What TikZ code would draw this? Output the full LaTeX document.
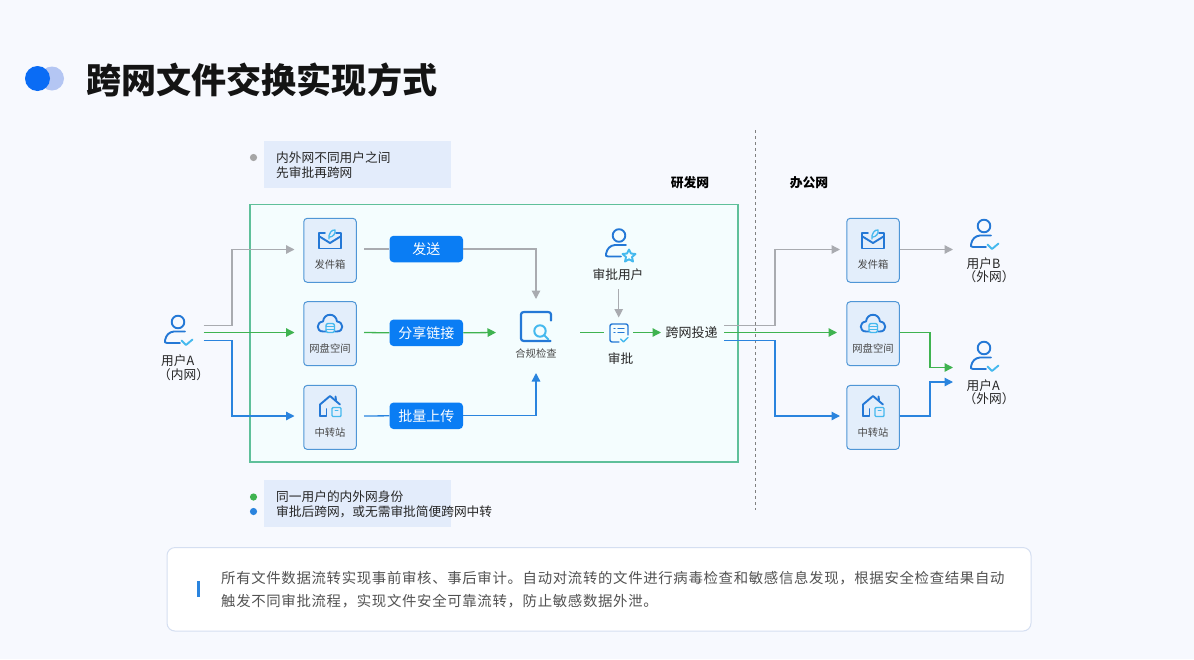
\documentclass[tikz,border=0pt]{standalone}
\usepackage{fontspec}
\setmainfont{Noto Sans CJK SC}
\usetikzlibrary{arrows.meta}
\definecolor{pagebg}{HTML}{F7F9FE}
\definecolor{darkicon}{HTML}{2478D6}
\definecolor{lighticon}{HTML}{45B9EE}
\definecolor{wiregray}{HTML}{A9ABB0}
\definecolor{wiregreen}{HTML}{3FB350}
\definecolor{wireblue}{HTML}{2A84DE}
\definecolor{pillblue}{HTML}{0A7DF4}
\definecolor{tilefill}{HTML}{E3EEFB}
\definecolor{tileedge}{HTML}{4F96D6}
\definecolor{notefill}{HTML}{E3ECFB}
\definecolor{titledark}{HTML}{0A6CF5}
\definecolor{titlelight}{HTML}{B4C6F3}
\definecolor{zoneedge}{HTML}{5FC09A}
\definecolor{zonefill}{HTML}{F4FDFE}
\definecolor{cardedge}{HTML}{D5DFF1}
\tikzset{
  txt/.style={inner sep=0pt,text=black!85,font=\fontsize{#1}{#1}\selectfont},
  tile/.style={draw=tileedge,fill=tilefill,line width=1pt,rounded corners=3.5pt,minimum width=52.5pt,minimum height=64pt,inner sep=0pt},
  pill/.style={fill=pillblue,rounded corners=4pt,minimum width=73.5pt,minimum height=26.5pt,inner sep=0pt,text=white,font=\fontsize{14}{14}\selectfont},
  notebox/.style={fill=notefill,minimum width=187pt,minimum height=46.5pt,inner sep=0pt},
  tilelabel/.style={inner sep=0pt,text=black!72,font=\fontsize{10.3}{10.3}\selectfont},
  graywire/.style={draw=wiregray,line width=1.3pt},
  greenwire/.style={draw=wiregreen,line width=1.3pt},
  bluewire/.style={draw=wireblue,line width=1.3pt},
  grayarrow/.style={graywire,-{Triangle[length=8.5pt,width=8.5pt]}},
  greenarrow/.style={greenwire,-{Triangle[length=8.5pt,width=8.5pt]}},
  bluearrow/.style={bluewire,-{Triangle[length=8.5pt,width=8.5pt]}},
  dk/.style={draw=darkicon,line width=1.9pt,line cap=round,line join=round},
  lt/.style={draw=lighticon,line width=1.9pt,line cap=round,line join=round},
  checkperson/.pic={
    \draw[dk] (0,0) circle (6.3);
    \draw[dk] (2,21) -- (-11,21) .. controls (-13,21) and (-13.5,20) .. (-13,18.5) .. controls (-12,13) and (-9,10) .. (-4,9.5) -- (7,9.5);
    \draw[lt] (3.5,18.5) -- (8,23) -- (14.5,17.5);
  },
  starperson/.pic={
    \draw[dk] (0,0) circle (6.3);
    \draw[dk] (2,21) -- (-11,21) .. controls (-13,21) and (-13.5,20) .. (-13,18.5) .. controls (-12,13) and (-9,10) .. (-4,9.5) -- (7,9.5);
    \draw[lt] (10,14) -- (12,18) -- (16.5,18.5) -- (13,21.5) -- (14,26) -- (10,23.8) -- (6,26) -- (7,21.5) -- (3.5,18.5) -- (8,18) -- cycle;
  },
  mailicon/.pic={
    \draw[dk] (-5,-7) -- (-11,-7) -- (-11,8.5) -- (11,8.5) -- (11,-7) -- (6,-7);
    \draw[dk] (-10.5,-3.5) -- (0,3) -- (10.5,-3.5);
    \draw[lt,line width=1.3pt] (-1,-1) .. controls (-2,-6) and (2,-11) .. (5,-10) .. controls (6,-7) and (3,-3) .. (0,-3);
  },
  cloudicon/.pic={
    \draw[dk] (-4,8.5) -- (-7,8.5) .. controls (-14,8.5) and (-14,-1) .. (-7,-1.5) .. controls (-6,-10.5) and (6,-10.5) .. (7,-1.5) .. controls (14,-1) and (14,8.5) .. (7,8.5) -- (5,8.5);
    \draw[lt,line width=1.4pt,rounded corners=2pt] (-4,0.5) rectangle (4.5,9.5);
    \draw[lt,line width=1pt] (-4,3.5) -- (4.5,3.5) (-4,6.5) -- (4.5,6.5);
  },
  houseicon/.pic={
    \draw[dk] (-10,10) -- (-10,-1.5) -- (0,-10) -- (10,-1.5);
    \draw[dk] (5.5,-9.5) -- (6,-6);
    \draw[dk] (-10,10) -- (-3.5,10) -- (-3.5,3);
    \draw[lt,line width=1.4pt,fill=tilefill,rounded corners=1pt] (2,1.5) rectangle (11,10.5);
    \draw[lt,line width=1pt] (5,4.5) -- (8,4.5);
  },
  searchicon/.pic={
    \draw[dk,line width=2.2pt] (14.5,14.5) -- (-12,14.5) .. controls (-14,14.5) and (-15,13.5) .. (-15,12) -- (-15,-12) .. controls (-15,-13.5) and (-14,-14.5) .. (-12,-14.5) -- (12,-14.5) .. controls (14,-14.5) and (15,-13.5) .. (15,-12) -- (15,-6);
    \draw[lt,line width=2pt] (4,4.5) circle (5.7);
    \draw[lt,line width=2pt] (8.5,9) -- (12.5,13);
  },
  approveicon/.pic={
    \draw[dk,line width=1.4pt] (0,9) -- (-7,9) .. controls (-8,9) and (-9,8) .. (-9,7) -- (-9,-7) .. controls (-9,-8) and (-8,-9) .. (-7,-9) -- (7,-9) .. controls (8,-9) and (9,-8) .. (9,-7) -- (9,2);
    \draw[dk,line width=1.4pt] (-5,-4.5) -- (-4,-4.5) (-1,-4.5) -- (5,-4.5) (-5,-.5) -- (-4,-.5) (-1,-.5) -- (5,-.5);
    \draw[lt,line width=1.4pt] (1.5,6) -- (4.5,8.8) -- (9,4.5);
  }
}
\begin{document}
\begin{tikzpicture}[x=1pt,y=-1pt]
\useasboundingbox (0,0) rectangle (1194,659);
\fill[pagebg] (0,0) rectangle (1194,659);

% title
\fill[titlelight] (52,78.5) circle (12);
\fill[titledark] (37.5,78.5) circle (12.5);
\node[inner sep=0pt,anchor=west,text=black!92,font=\fontsize{35.1}{35.1}\selectfont\bfseries] (title) at (86,80) {跨网文件交换实现方式};

% top note
\node[notebox] (noteA) at (357.5,164.5) {};
\fill[black!35] (253.5,157.5) circle (3.6);
\node[txt=12.7,anchor=west] (noteAone) at (276,157.5) {内外网不同用户之间};
\node[txt=12.7,anchor=west] (noteAtwo) at (276,172.5) {先审批再跨网};

% zones
\draw[zoneedge,fill=zonefill,line width=1.3pt] (250,204.5) rectangle (738,462);
\draw[black!50,dashed,line width=.8pt] (755.5,130) -- (755.5,510);
\node[txt=12.5,font=\fontsize{12.8}{12.8}\selectfont\bfseries,text=black] (zoneR) at (690,183) {研发网};
\node[txt=12.5,font=\fontsize{12.8}{12.8}\selectfont\bfseries,text=black] (zoneO) at (809,183) {办公网};

% anchors for free ends
\coordinate (aGray) at (203.5,325.5);
\coordinate (aGreen) at (203.5,332.5);
\coordinate (aBlue) at (203.5,340.5);
\coordinate (bendL) at (232,332);
\coordinate (tGray) at (294.5,249.5);
\coordinate (tGreen) at (294.5,332.5);
\coordinate (tBlue) at (294.5,416);
\coordinate (sGray) at (364,249);
\coordinate (sGreen) at (364,332.5);
\coordinate (sBlue) at (364,416);
\coordinate (dGray) at (724,325.5);
\coordinate (dGreen) at (724,332.5);
\coordinate (dBlue) at (724,340.5);
\coordinate (bendR) at (775,332);
\coordinate (rGray) at (840,249.5);
\coordinate (rGreen) at (837,332.5);
\coordinate (rBlue) at (840,416);
\coordinate (bendU) at (930,332);
\coordinate (checkTop) at (536,299);
\coordinate (checkBot) at (536,373);
\coordinate (checkIn) at (496,332.5);
\coordinate (checkOut) at (580,332.5);
\coordinate (apprIn) at (604,332.5);
\coordinate (apprOut) at (633,332.5);
\coordinate (sendTip) at (661,332.5);
\coordinate (userTop) at (618.7,289);
\coordinate (apprTop) at (618.7,317.5);
\coordinate (bTip) at (953,249.5);
\coordinate (aTipG) at (953,367.5);
\coordinate (aTipB) at (953,382);

% tiles
\node[tile] (boxMailL) at (330,250.3) {};
\node[tile] (boxDiskL) at (330,333.7) {};
\node[tile] (boxHubL) at (330,417.4) {};
\node[tile] (boxMailR) at (873,250.3) {};
\node[tile] (boxDiskR) at (873,333.7) {};
\node[tile] (boxHubR) at (873,417.4) {};
\pic at (330,240) {mailicon};
\pic at (330,323) {cloudicon};
\pic at (330,406) {houseicon};
\pic at (873,240) {mailicon};
\pic at (873,323) {cloudicon};
\pic at (873,406) {houseicon};
\node[tilelabel] (tMailL) at (330,265) {发件箱};
\node[tilelabel] (tDiskL) at (330,348.5) {网盘空间};
\node[tilelabel] (tHubL) at (330,432.5) {中转站};
\node[tilelabel] (tMailR) at (873,265) {发件箱};
\node[tilelabel] (tDiskR) at (873,348.5) {网盘空间};
\node[tilelabel] (tHubR) at (873,432.5) {中转站};

% pills
\node[pill] (pSend) at (426.3,249) {发送};
\node[pill] (pShare) at (426.3,332.8) {分享链接};
\node[pill] (pBatch) at (426.3,415.8) {批量上传};

% left connectors
\draw[graywire] (sGray) -- (pSend.west);
\draw[greenwire] (sGreen) -- (pShare.west);
\draw[bluewire] (sBlue) -- (pBatch.west);
\draw[grayarrow] (pSend.east) -| (checkTop);
\draw[greenarrow] (pShare.east) -- (checkIn);
\draw[bluearrow] (pBatch.east) -| (checkBot);
\draw[grayarrow] (aGray) -- (aGray -| bendL) |- (tGray);
\draw[greenarrow] (aGreen) -- (tGreen);
\draw[bluearrow] (aBlue) -- (aBlue -| bendL) |- (tBlue);

% middle
\pic at (536,326.5) {searchicon};
\node[tilelabel] (tCheck) at (536,354) {合规检查};
\pic at (619,235.5) {starperson};
\node[txt=12.7] (tApprover) at (618,275) {审批用户};
\pic at (619,333) {approveicon};
\node[txt=12.7] (tApprove) at (620.5,359) {审批};
\node[txt=13,anchor=west] (tSend) at (665.5,333) {跨网投递};
\draw[greenwire] (checkOut) -- (apprIn);
\draw[greenarrow] (apprOut) -- (sendTip);
\draw[grayarrow] (userTop) -- (apprTop);

% right connectors
\draw[grayarrow] (dGray) -- (dGray -| bendR) |- (rGray);
\draw[greenarrow] (dGreen) -- (rGreen);
\draw[bluearrow] (dBlue) -- (dBlue -| bendR) |- (rBlue);
\draw[grayarrow] (boxMailR.east |- bTip) -- (bTip);
\draw[greenarrow] (boxDiskR.east |- dGreen) -- (dGreen -| bendU) |- (aTipG);
\draw[bluearrow] (boxHubR.east |- sBlue) -- (sBlue -| bendU) |- (aTipB);

% users
\pic at (178,322) {checkperson};
\node[txt=12.7,anchor=west] (uA) at (161,361) {用户A};
\node[txt=12.7,anchor=west] (uAb) at (158,374.5) {（内网）};
\pic at (984,226) {checkperson};
\node[txt=12.7,anchor=west] (uB) at (966.5,263.5) {用户B};
\node[txt=12.7,anchor=west] (uBb) at (963.5,277) {（外网）};
\pic at (984,348) {checkperson};
\node[txt=12.7,anchor=west] (uC) at (966.5,386) {用户A};
\node[txt=12.7,anchor=west] (uCb) at (963.5,399) {（外网）};

% lower note
\node[notebox] (noteB) at (357.5,503.5) {};
\fill[wiregreen] (253.5,497) circle (3.6);
\fill[wireblue] (253.5,511.5) circle (3.6);
\node[txt=12.7,anchor=west] (noteBone) at (276,497) {同一用户的内外网身份};
\node[txt=12.7,anchor=west] (noteBtwo) at (276,511.7) {审批后跨网，或无需审批简便跨网中转};

% card
\node[draw=cardedge,fill=white,line width=1pt,rounded corners=8pt,minimum width=864pt,minimum height=83.5pt,inner sep=0pt] (card) at (599,589.3) {};
\fill[wireblue] (197,581) rectangle (200,596.5);
\node[txt=14.4,anchor=west,text=black!68] (cardOne) at (221,578) {\addfontfeature{LetterSpace=4.7}所有文件数据流转实现事前审核、事后审计。自动对流转的文件进行病毒检查和敏感信息发现，根据安全检查结果自动};
\node[txt=14.4,anchor=west,text=black!68] (cardTwo) at (221,601) {\addfontfeature{LetterSpace=4.7}触发不同审批流程，实现文件安全可靠流转，防止敏感数据外泄。};
\end{tikzpicture}
\end{document}
